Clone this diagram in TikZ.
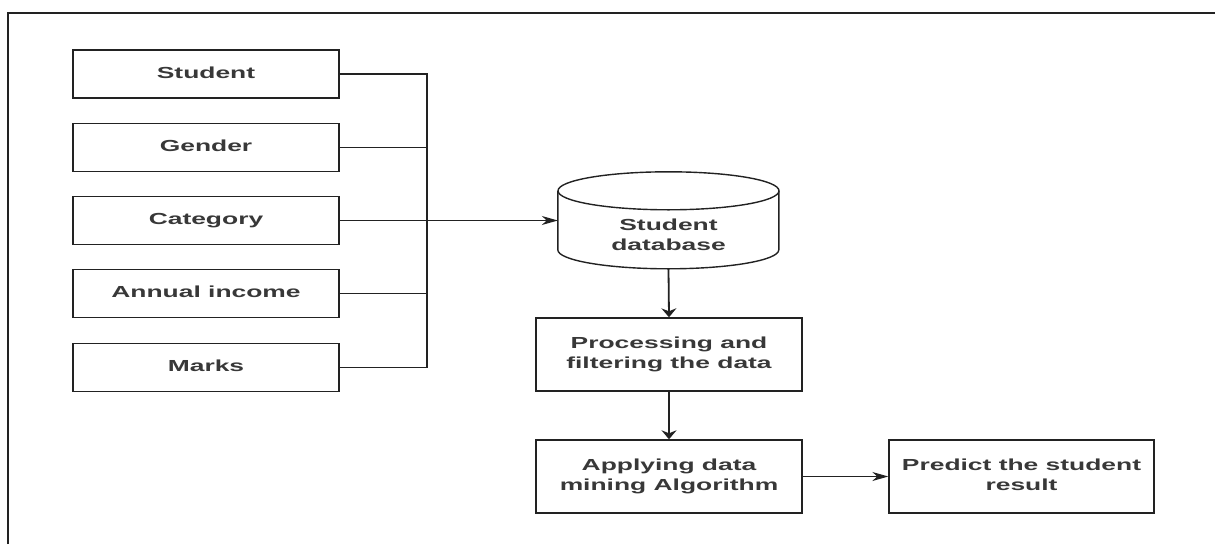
\documentclass[tikz,border=0pt]{standalone}
\usepackage{fontspec}
\setmainfont{Liberation Sans}
\usepackage{graphicx}
\usetikzlibrary{arrows.meta}

\definecolor{ink}{HTML}{222222}
\newcommand{\wtxt}[1]{\scalebox{1.65}[1]{\bfseries\begin{tabular}{@{}c@{}}#1\end{tabular}}}

\tikzset{
  box/.style={draw=ink, line width=1.4pt, minimum width=266pt, inner sep=0pt,
    font=\fontsize{16}{20}\selectfont, text=ink!90},
  inbox/.style={box, minimum height=48pt},
  stepbox/.style={box, minimum height=73pt},
  wire/.style={draw=ink, line width=1.1pt},
  harr/.style={wire, -{Stealth[length=16pt,width=9pt,inset=5pt]}},
  varr/.style={wire, line width=1.8pt, -{Stealth[length=9pt,width=15pt,inset=3pt]}}
}

\begin{document}
\begin{tikzpicture}[x=1pt, y=-1pt]
    \useasboundingbox (0, 0) rectangle (1215, 544);
    \draw[ink, line width=2pt] (8, 544) -- (8, 13) -- (1215, 13);

    % input fields
    \node[inbox] (student) at (206, 74) {\wtxt{Student}};
    \node[inbox] (gender) at (206, 147.5) {\wtxt{Gender}};
    \node[inbox] (category) at (206, 220.5) {\wtxt{Category}};
    \node[inbox] (income) at (206, 293.5) {\wtxt{Annual income}};
    \node[inbox] (marks) at (206, 367.5) {\wtxt{Marks}};

    % database drum
    \node[minimum width=221pt, minimum height=97pt, inner sep=0pt,
      label={[font=\fontsize{16}{20}\selectfont, text=ink!90, yshift=-16pt]center:{\wtxt{Student\\database}}}]
      (db) at (668.5, 220.5) {};
    \draw[ink, line width=1.4pt] (db.north west) ++(0, 19) -- ++(0, 59)
      arc[start angle=180, end angle=0, x radius=110.5, y radius=19] -- ++(0, -59);
    \draw[ink, line width=1.4pt] (db.north) ++(0, 19) ellipse [x radius=110.5, y radius=19];

    % steps
    \node[stepbox] (proc) at (669, 354.5) {\wtxt{Processing and\\filtering the data}};
    \node[stepbox] (algo) at (669, 476.5) {\wtxt{Applying data\\mining Algorithm}};
    \node[stepbox, minimum width=265pt] (pred) at (1021.5, 476.5) {\wtxt{Predict the student\\result}};

    \coordinate (bus) at (427, 74);
    \draw[wire] (student.east) -- (bus) -- (bus |- marks.east) -- (marks.east);
    \draw[wire] (gender.east) -- (bus |- gender.east);
    \draw[wire] (income.east) -- (bus |- income.east);
    \draw[harr] (category.east) -- (db.west);
    \draw[varr] (db.south) -- (proc.north);
    \draw[varr] (proc.south) -- (algo.north);
    \draw[harr] (algo.east) -- (pred.west);
\end{tikzpicture}
\end{document}
